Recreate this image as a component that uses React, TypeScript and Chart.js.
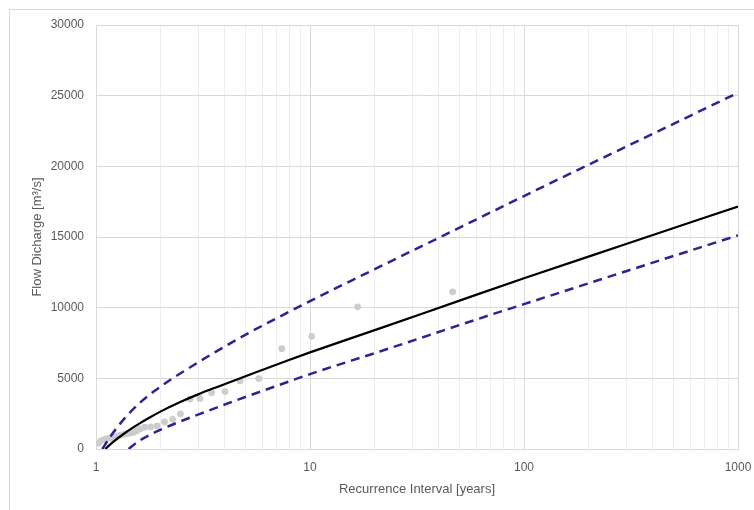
import React, { useEffect, useRef } from "react";
import { Chart, registerables } from "chart.js";

Chart.register(...registerables);

// Observed annual peak discharges (recurrence interval in years, discharge in m3/s)
const obsT = [1.025, 1.05, 1.08, 1.11, 1.15, 1.19, 1.22, 1.25, 1.29, 1.32, 1.37, 1.42, 1.46, 1.5, 1.55, 1.61, 1.69, 1.8, 1.93, 2.09, 2.28, 2.48, 2.75, 3.06, 3.47, 4.01, 4.71, 5.76, 7.38, 10.18, 16.7, 46.4];
const obsQ = [400, 560, 640, 720, 760, 760, 830, 880, 960, 1000, 1060, 1110, 1150, 1180, 1290, 1420, 1540, 1560, 1630, 1910, 2100, 2490, 3530, 3580, 3980, 4060, 4820, 4980, 7100, 7970, 10060, 11120];

// Fitted frequency curve
const fitT = [1.105, 1.2, 1.371, 1.6, 1.79, 2, 2.52, 3, 3.66, 5.25, 7.92, 10, 21.2, 50, 100, 300, 1000];
const fitQ = [0, 490, 1150, 1810, 2245, 2645, 3375, 3865, 4375, 5275, 6285, 6835, 8535, 10500, 12080, 14503, 17160];

// Upper confidence limit
const upperT = [1.07, 1.166, 1.366, 1.64, 1.89, 2.29, 2.56, 3.41, 5.06, 7.5, 10, 21.2, 69.4, 100, 300, 1000];
const upperQ = [0, 870, 2200, 3400, 4140, 5020, 5480, 6640, 8130, 9497, 10467, 12900, 16720, 17900, 21390, 25209];

// Lower confidence limit
const lowerT = [1.42, 1.6, 1.96, 2.43, 3.06, 4.38, 7.92, 10, 21.2, 69.4, 100, 300, 1000];
const lowerQ = [0, 600, 1300, 1900, 2480, 3370, 4760, 5300, 6900, 9480, 10250, 12580, 15117];

// Axis ticks
const xMajorLabels = [1, 10, 100, 1000];
const xGridTicks: number[] = [];
for (const decade of [1, 10, 100]) {
  for (let k = 1; k <= 9; k++) xGridTicks.push(k * decade);
}
xGridTicks.push(1000);

const TEXT = "#595959";
const GRID = "#d9d9d9";
const MINOR = "#eeeeee";
const DASH = "#2f2390";
const FONT = "'Liberation Sans', Arial, sans-serif";

const pts = (xs: number[], ys: number[]) => xs.map((x, i) => ({ x, y: ys[i] }));

export default function App() {
  const ref = useRef<HTMLCanvasElement>(null);

  useEffect(() => {
    document.body.style.margin = "0";
    const canvas = ref.current;
    if (!canvas) return;
    const chart = new Chart(canvas, {
      type: "scatter",
      data: {
        datasets: [
          {
            label: "Fit",
            data: pts(fitT, fitQ),
            showLine: true,
            borderColor: "#000000",
            borderWidth: 2.2,
            pointRadius: 0,
            cubicInterpolationMode: "monotone",
            order: 1,
          },
          {
            label: "Upper",
            data: pts(upperT, upperQ),
            showLine: true,
            borderColor: DASH,
            borderWidth: 2.5,
            borderDash: [9, 6],
            pointRadius: 0,
            cubicInterpolationMode: "monotone",
            order: 2,
          },
          {
            label: "Lower",
            data: pts(lowerT, lowerQ),
            showLine: true,
            borderColor: DASH,
            borderWidth: 2.5,
            borderDash: [9, 6],
            pointRadius: 0,
            cubicInterpolationMode: "monotone",
            order: 3,
          },
          {
            label: "Observed",
            data: pts(obsT, obsQ),
            showLine: false,
            backgroundColor: "#cdcdcd",
            borderWidth: 0,
            pointRadius: 3.4,
            order: 4,
          },
        ],
      } as any,
      options: {
        animation: false,
        responsive: false,
        maintainAspectRatio: false,
        layout: { padding: { left: 0, right: 16, top: 25, bottom: 0 } },
        plugins: {
          legend: { display: false },
          tooltip: { enabled: false },
        },
        scales: {
          x: {
            type: "logarithmic",
            min: 1,
            max: 1000,
            afterBuildTicks: (s: any) => {
              s.ticks = xGridTicks.map((v) => ({ value: v }));
            },
            afterFit: (s: any) => {
              s.height = 61;
              s.paddingLeft = 0;
              s.paddingRight = 0;
            },
            ticks: {
              autoSkip: false,
              maxRotation: 0,
              minRotation: 0,
              padding: 11,
              color: TEXT,
              font: { family: FONT, size: 12 },
              callback: (v: any) => (xMajorLabels.includes(Number(v)) ? String(v) : ""),
            },
            grid: {
              drawTicks: false,
              color: (c: any) =>
                c.tick && xMajorLabels.includes(c.tick.value) ? GRID : MINOR,
            },
            border: { color: GRID },
            title: {
              display: true,
              text: "Recurrence Interval [years]",
              color: TEXT,
              font: { family: FONT, size: 13 },
              padding: { top: 0, bottom: 13 },
            },
          },
          y: {
            min: 0,
            max: 30000,
            afterFit: (s: any) => {
              s.width = 96;
              s.paddingTop = 0;
              s.paddingBottom = 0;
            },
            ticks: {
              stepSize: 5000,
              padding: 12,
              color: TEXT,
              font: { family: FONT, size: 12 },
              callback: (v: any) => String(v),
            },
            grid: { drawTicks: false, color: GRID },
            border: { color: GRID },
            title: {
              display: true,
              text: "Flow Dicharge [m³/s]",
              color: TEXT,
              font: { family: FONT, size: 13 },
              padding: { top: 30, bottom: 0 },
            },
          },
        },
      } as any,
    });
    return () => chart.destroy();
  }, []);

  return (
    <div style={{ position: "relative", width: 754, height: 510, overflow: "hidden" }}>
      <div
        style={{
          position: "absolute",
          left: 9,
          top: 9,
          width: 800,
          height: 600,
          border: "1px solid #d9d9d9",
          boxSizing: "border-box",
        }}
      />
      <canvas
        ref={ref}
        width={754}
        height={510}
        style={{ position: "absolute", left: 0, top: 0, display: "block" }}
      />
    </div>
  );
}
